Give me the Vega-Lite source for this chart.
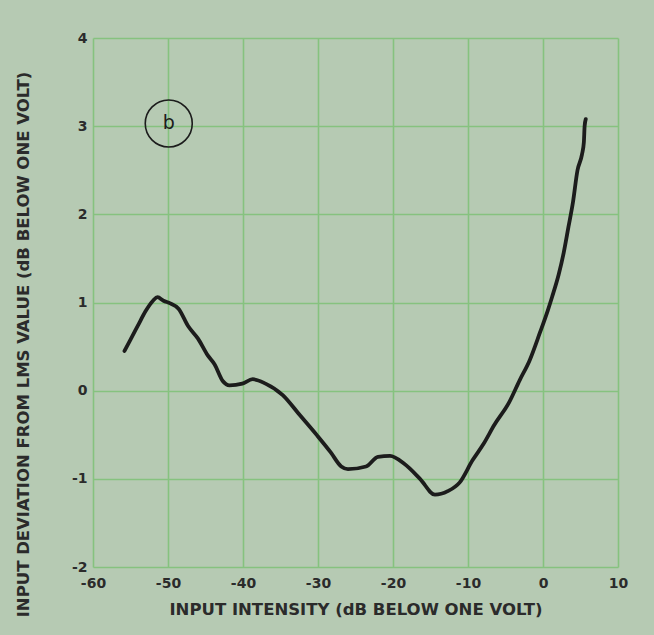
{
  "$schema": "https://vega.github.io/schema/vega-lite/v6.json",
  "width": 525,
  "height": 529,
  "autosize": {"type": "none"},
  "padding": {"left": 93, "top": 38, "right": 36, "bottom": 68},
  "background": "#b6cab3",
  "config": {
    "view": {"stroke": null, "fill": "#b6cab3"},
    "font": "DejaVu Sans"
  },
  "datasets": {
    "curve": [
      {"x": -55.8, "y": 0.45},
      {"x": -55.0, "y": 0.58},
      {"x": -54.0, "y": 0.74},
      {"x": -53.0, "y": 0.90},
      {"x": -52.0, "y": 1.02},
      {"x": -51.4, "y": 1.06},
      {"x": -50.6, "y": 1.02},
      {"x": -49.7, "y": 0.99},
      {"x": -48.6, "y": 0.93},
      {"x": -47.3, "y": 0.73},
      {"x": -46.0, "y": 0.59},
      {"x": -44.7, "y": 0.40},
      {"x": -43.8, "y": 0.30},
      {"x": -42.7, "y": 0.11},
      {"x": -41.8, "y": 0.06},
      {"x": -40.1, "y": 0.08},
      {"x": -38.7, "y": 0.13},
      {"x": -37.0, "y": 0.08},
      {"x": -34.7, "y": -0.05},
      {"x": -32.4, "y": -0.28},
      {"x": -30.1, "y": -0.51},
      {"x": -28.3, "y": -0.70},
      {"x": -26.9, "y": -0.86},
      {"x": -26.0, "y": -0.89},
      {"x": -23.6, "y": -0.86},
      {"x": -22.0, "y": -0.75},
      {"x": -20.4, "y": -0.74},
      {"x": -18.5, "y": -0.83},
      {"x": -16.4, "y": -1.0},
      {"x": -14.4, "y": -1.18},
      {"x": -12.7, "y": -1.14},
      {"x": -11.1, "y": -1.04},
      {"x": -9.4, "y": -0.79},
      {"x": -7.9, "y": -0.60},
      {"x": -6.5, "y": -0.39},
      {"x": -4.5, "y": -0.13},
      {"x": -3.1, "y": 0.12},
      {"x": -1.8, "y": 0.34},
      {"x": -0.4, "y": 0.66},
      {"x": 0.6, "y": 0.90},
      {"x": 1.2, "y": 1.06},
      {"x": 2.1, "y": 1.32},
      {"x": 2.75, "y": 1.56},
      {"x": 3.4, "y": 1.86},
      {"x": 4.0, "y": 2.14},
      {"x": 4.6, "y": 2.50},
      {"x": 5.2, "y": 2.68},
      {"x": 5.45, "y": 2.82},
      {"x": 5.55, "y": 3.0},
      {"x": 5.7, "y": 3.08}
    ],
    "label": [{"x": -49.9, "y": 3.03, "t": "b"}]
  },
  "encoding": {
    "x": {
      "field": "x",
      "type": "quantitative",
      "scale": {"domain": [-60, 10], "nice": false, "zero": false},
      "axis": {
        "values": [-60, -50, -40, -30, -20, -10, 0, 10],
        "labelExpr": "replace(datum.label, '\u2212', '-')",
        "title": "INPUT INTENSITY (dB  BELOW ONE VOLT)",
        "domain": false,
        "ticks": false,
        "grid": true,
        "gridColor": "#86c27f",
        "gridWidth": 1.6,
        "gridOpacity": 1,
        "labelFontSize": 14,
        "labelFontWeight": "bold",
        "labelColor": "#2b2b2b",
        "labelPadding": 9,
        "labelFlush": false,
        "titleFontSize": 16.5,
        "titleFontWeight": "bold",
        "titleColor": "#2b2b2b",
        "titlePadding": 11
      }
    },
    "y": {
      "field": "y",
      "type": "quantitative",
      "scale": {"domain": [-2, 4], "nice": false, "zero": false},
      "axis": {
        "values": [-2, -1, 0, 1, 2, 3, 4],
        "labelExpr": "replace(datum.label, '\u2212', '-')",
        "title": "INPUT DEVIATION FROM LMS VALUE (dB  BELOW ONE VOLT)",
        "domain": false,
        "ticks": false,
        "grid": true,
        "gridColor": "#86c27f",
        "gridWidth": 1.6,
        "gridOpacity": 1,
        "labelFontSize": 14,
        "labelFontWeight": "bold",
        "labelColor": "#2b2b2b",
        "labelPadding": 6,
        "labelFlush": false,
        "titleFontSize": 16.5,
        "titleFontWeight": "bold",
        "titleColor": "#2b2b2b",
        "titleX": -70,
        "titleY": 306,
        "titleAngle": -90,
        "titleBaseline": "middle"
      }
    }
  },
  "layer": [
    {
      "data": {"name": "curve"},
      "mark": {"type": "line", "color": "#1c1c1c", "strokeWidth": 3.8, "interpolate": "monotone", "strokeCap": "round", "strokeJoin": "round"}
    },
    {
      "data": {"name": "label"},
      "mark": {"type": "point", "shape": "circle", "size": 2209, "filled": false, "stroke": "#1c1c1c", "strokeWidth": 1.6, "opacity": 1}
    },
    {
      "data": {"name": "label"},
      "mark": {"type": "text", "fontSize": 19, "color": "#1c1c1c", "baseline": "middle", "align": "center", "dy": -1},
      "encoding": {"text": {"field": "t"}}
    }
  ]
}
